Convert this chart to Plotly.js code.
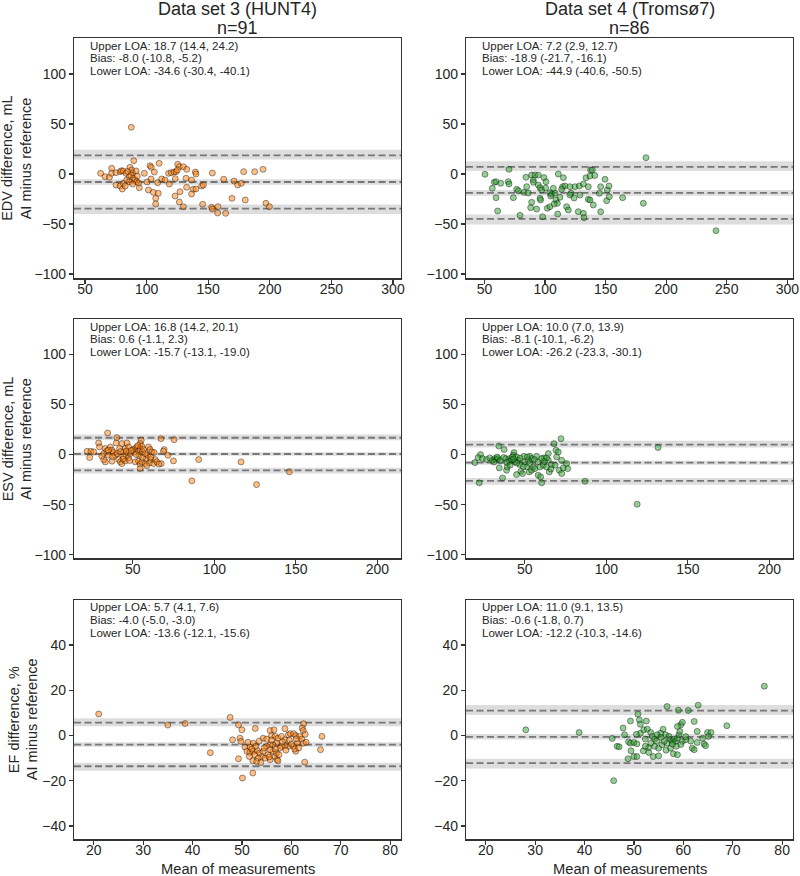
<!DOCTYPE html>
<html>
<head>
<meta charset="utf-8">
<script src="https://cdn.plot.ly/plotly-3.0.1.min.js"></script>
<style>html,body{margin:0;padding:0;background:#fff;}#chart{width:800px;height:876px;}</style>
</head>
<body>
<div id="chart"></div>
<script>
// ---------------- Data ----------------
const columnTitles = ["Data set 3 (HUNT4)", "Data set 4 (Tromsø7)"];
const columnN = [91, 86];
const rowLabels = ["EDV difference, mL", "ESV difference, mL", "EF difference, %"];
const rowLabel2 = "AI minus reference";
const xTitle = "Mean of measurements";

// EDV, HUNT4
const huntEdvX = [87.6,89.6,110.2,102.8,103.8,125.3,126.6,129.9,132.6,71.7,
  62.7,66.3,69.8,71.7,75.2,78.5,79.7,81.1,83.3,86.5,
  87.9,88.7,87.1,86.0,89.3,90.6,91.9,98.2,106.3,117.9,
  120.0,122.3,123.9,125.0,139.6,140.1,153.4,178.8,187.7,194.5,
  75.2,78.5,80.3,81.1,83.9,86.0,88.7,94.1,101.5,103.6,
  105.5,109.5,107.4,107.4,109.0,112.3,114.9,118.5,123.3,127.1,
  123.1,126.6,129.9,132.0,136.5,132.5,137.9,140.1,136.5,144.7,
  146.1,145.5,162.6,171.0,173.9,176.9,169.3,180.1,196.9,152.8,
  153.4,158.0,157.7,164.2,199.7,91.5,92.5,84.6,93.5,82.7,100.4];
const huntEdvY = [46.7,13.3,10.7,8.3,6.7,9.7,7.3,7.3,4.7,5.7,
  0.7,-2.7,-3.3,0.7,1.3,2.3,3.3,3.0,0.7,6.7,
  4.0,0.7,-1.0,-2.7,-4.3,-6.0,-7.7,0.7,2.0,0.7,
  1.3,2.0,2.3,4.0,2.0,0.0,1.0,2.3,2.3,4.7,
  -11.0,-12.0,-15.0,-9.3,-6.0,-7.7,-10.0,-13.7,-16.0,-5.0,
  -18.3,-19.3,-24.3,-30.0,-8.7,-5.0,-6.0,-10.0,-4.7,-17.7,
  -22.0,-28.0,-32.7,-4.3,-6.0,-13.3,-15.3,-15.0,-20.0,-12.0,
  -11.0,-30.3,-5.3,-7.0,-11.0,-9.3,-24.3,-26.0,-29.3,-33.3,
  -35.0,-32.7,-39.0,-39.3,-32.7,3,-2,2.5,-9,-12,-8];

// EDV, Tromsø7
const tromEdvX = [183.3,50.4,70.2,58.1,59.5,63.3,56.4,59.5,60.8,69.6,
  70.2,73.8,76.5,77.9,79.3,82.6,84.2,84.8,88.9,90.3,
  91.7,94.4,90.3,94.4,95.8,97.2,88.9,88.1,93,95.8,
  96.3,100.7,98,101.8,104,104,105.4,108.2,109,110.1,
  110.9,112.3,115.1,114.5,116.4,117.8,119.2,120.6,121.4,110.4,
  124.7,128.3,128.8,127.4,131.6,131.6,132.1,133.8,135.7,137.1,
  137.1,137.6,139,139.8,135.7,144.8,145.9,145.9,149.5,150.8,
  151.4,152.8,153,164,181.1,104.6,113.7,106.8,120.6,241.1,
  100.5,107.5,124,141,99,86];
const tromEdvY = [16.3,-0.3,4.7,-8.3,-7.7,-9.3,-14.3,-23.7,-37,-7.7,
  -10,-23.7,-15.3,-16.7,-41.3,-18.3,-3.3,-12.7,-1,-6,
  -1,-1,-8.3,-11,-13.7,-16,-28.3,-33.7,-35,-24.3,
  -26,-7.7,-42.7,-34.3,-32.7,-18.7,-20.3,-19.3,-26,-29.3,
  0,-23.3,-3.7,-12.7,-12,-32.7,-36,-12.7,-19.3,-40,
  -12.7,-12,-21,-37.7,-10,-39.3,-43.7,-3.7,-25.3,-26,
  -2,4,4,-31,-12.7,-19.3,-12.7,-37.7,-5.3,-26.7,
  -16,-12,-22.7,-23.7,-29.3,-22,-15.3,-14.3,-21,-56.7,
  -14,-30,-24,-1.5,-3.5,-19];

// ESV, HUNT4
const huntEsvX = [34.5,40.2,67.2,75.3,55.1,54.5,29,29.6,39.8,43.3,
  46.4,21.9,24.3,26,23.5,32.1,33.1,34.1,35.1,36.2,
  37.2,38.2,39.2,33.1,32.1,37.2,41.3,42.3,43.3,41.9,
  44.3,45.3,45.9,47.4,44.3,45.3,47.4,48.4,50,50.9,
  51.5,52.5,53.5,53.9,54.5,55.5,55.9,56.6,51.5,53.5,
  54.5,55.5,54.5,57.6,58.2,59,59.6,60.6,61.7,61.1,
  60.2,62.7,63.7,64.7,67.4,69.2,68.8,71.5,74.9,90.4,
  86.2,116.4,125.9,146,31,35,37.5,40.5,42.5,44,
  46,48,49,52,53,56,57.5,58.5,61,63,
  66];
const huntEsvY = [21.6,16.9,15.9,14.9,14.3,11,11.6,7.6,11.6,11,
  11.6,3.3,3.3,2.7,-3,1,6,3.7,-0.7,7.6,
  4.3,2,-0.7,-7.3,-5,-6.6,-5,-7.3,-9,6,
  2.7,6,-0.7,7.6,-2.3,-6.3,-3.3,1,5,2.7,
  6,7.6,3.7,-0.7,6,8.3,2.7,5,-7.3,-6.6,
  -9.6,-7.3,-13.9,-9,-4,-0.7,7.6,5,2.7,-5,
  -8.3,-9,-5,-7.3,-9,5,3.3,-0.7,-6.3,-5,
  -26.2,-7.3,-29.9,-17.2,-1.5,4.5,-2,1,3,-4.5,
  3.5,-6,4,0,9,-3,1,-11,-2.5,2,
  -9.5];

// ESV, Tromsø7
const tromEsvX = [72.2,67.9,34,37.3,69.1,70.5,43.3,42.9,64.4,69.5,
  72.6,64.4,61.7,60.3,53.1,54.1,57.2,22.8,21.3,19.3,
  22,24,26.5,28.5,30.2,31.6,32.6,33.6,34.3,36.3,
  38.8,39.2,40.8,41.8,42.4,43.9,44.9,45.9,46.9,47.6,
  48.6,50,51.1,52.1,52.7,54.1,55.1,56.2,58.2,59.7,
  60.3,59.2,61.3,63.3,65,66.4,68.5,71.1,72.6,73.6,
  75.6,76.3,86.9,118.9,38.3,40.4,44.9,49.4,51.5,63.3,
  131.7,33,35,37,39,41,43,45,47,49,
  53,56,58,62,66,31];
const tromEsvY = [15.9,10.9,8.6,5,4.3,2.6,2,-0.7,1,-2.3,
  -5.7,-5.7,-3.3,-4,-1.7,-4,-1.7,0,-3,-8,
  -28.2,-4,-5,-3.3,-5.7,-4,-5,-4,-13.3,-23.3,
  -15.6,-12.3,-4,-5.7,-2.3,-7.3,-20,-5.7,-10,-16.6,
  -19,-7.3,-12.3,-5.7,-17.3,-15.6,-12.3,-14,-20.6,-22.3,
  -28.2,-12.3,-10.6,-12.3,-17.3,-10,-10.6,-15.6,-18.9,-13.3,
  -9,-14,-26.6,-49.5,-4,-6.7,-2.3,-1.7,-2.3,-3.3,
  7,-2.5,-6,-3,-8,-10.5,-4.5,-8.5,-3.5,-12,
  -9,-5,-7.5,-7,-14.5,-7.5];

// EF, HUNT4
const huntEfX = [47.6,49.3,50,49.6,48.1,49.8,52.7,49.3,52.2,52.2,
  50.1,55.7,56.5,58.7,62.5,62.2,62.4,66.2,65.9,62.7,
  54.3,55,56,56.7,57.3,58,58.7,59.4,59.8,60.5,
  60.9,61.7,62.1,62.4,61.2,60.4,59.4,58.7,58,57,
  56.3,55.7,55,52.3,51.6,50.6,51,51.6,52.3,52.6,
  53.1,53.6,54,53.3,54.7,55.3,55.7,56.3,56.7,57,
  57.1,54.3,51.5,53,60.9,60.7,52.8,55.7,57.7,21,
  35,38.5,43.6,51.2,52,53.5,54.5,55.5,56,56.8,
  57.5,58.2,58.9,59.6,60,61,61.5,53.8,63,57.3,
  62.8];
const huntEfY = [8.0,4.7,2.5,-1.2,-1.9,-2.6,3.1,-10.3,-11.2,-16.6,
  -18.8,2.2,2.5,3.0,5.2,3.3,2.2,-0.4,-6.3,-11.8,
  -1.2,-1.6,-0.1,-0.4,-1.2,-0.4,-1.9,0.3,0.8,0.8,
  -0.1,-0.4,-1.6,-3.4,-3.4,-4.8,-4.8,-4.5,-4.8,-3.4,
  -4.1,-4.1,-4.8,-3.4,-5.1,-5.1,-7.0,-7.5,-7.0,-8.5,
  -6.6,-7.8,-9.3,-10.0,-10.0,-8.5,-10.7,-7.0,-9.3,-7.8,
  -10.7,-7.0,-9.3,-11.5,-7.0,-6.0,-4.8,-6.3,-5.6,9.5,
  4.6,5.3,-7.6,-3,-6,-2.5,-5.5,-9.5,-2,-6,
  -8.5,-2.8,-6.5,-2,-3.8,-1.5,-5.5,-12,-3,-11.2,
  0.5];

// EF, Tromsø7
const tromEfX = [56.7,63.0,59.0,61.0,50.8,49.3,51.1,52.5,51.3,47.8,
  45.6,46.6,48.1,48.9,49.3,50.0,50.6,49.4,48.8,50.0,
  50.6,51.9,53.0,53.9,55.0,51.3,52.0,52.7,53.4,53.7,
  54.2,54.6,53.4,54.2,55.0,55.7,55.9,55.4,56.4,57.1,
  57.4,57.8,58.1,58.4,58.8,59.1,59.3,59.5,59.8,58.8,
  59.8,58.6,57.4,58.0,58.8,56.7,56.1,61.8,62.2,62.2,
  62.8,62.8,63.9,64.2,64.9,65.6,65.1,52.3,54.7,60.5,
  52.3,28.1,38.9,76.4,68.8,45.9,47,50.5,53,55.5,
  56.5,57.8,59.5,60.5,61.5,64.5];
const tromEfY = [12.8,13.4,11.2,11.1,9.4,6.4,6.9,6.4,5.0,3.3,
  -1.3,-4.8,0.3,-2.8,-3.4,-3.1,-3.7,-6.8,-10.3,-9.3,
  -9.3,-6.8,-5.3,-9.3,-9.0,1.0,2.5,2.8,1.3,-0.4,
  -1.6,-2.6,-3.4,-4.8,-5.6,-4.1,2.8,1.0,0.3,-0.4,
  -1.9,-2.6,-1.6,-2.6,-1.2,0.3,1.8,4.7,5.8,4.0,
  -2.6,-4.8,-5.6,-8.1,-8.5,-3.4,-2.6,-5.6,-6.3,6.2,
  1.8,-3.1,-1.2,-3.8,1.3,1.3,-0.4,-1.6,0.3,-1.9,
  -4.8,2.5,1.3,21.8,4.3,-20.0,-5,0.5,-7.5,-0.8,
  -6.5,-3.8,-4,-0.5,-2.5,-4.5];

// Limits of agreement, panels ordered: EDV-HUNT4, EDV-Tromsø7, ESV-HUNT4, ESV-Tromsø7, EF-HUNT4, EF-Tromsø7
const upperLOA = [18.7, 7.2, 16.8, 10.0, 5.7, 11.0];
const upperCI  = [[14.4, 24.2], [2.9, 12.7], [14.2, 20.1], [7.0, 13.9], [4.1, 7.6], [9.1, 13.5]];
const biasVal  = [-8.0, -18.9, 0.6, -8.1, -4.0, -0.6];
const biasCI   = [[-10.8, -5.2], [-21.7, -16.1], [-1.1, 2.3], [-10.1, -6.2], [-5.0, -3.0], [-1.8, 0.7]];
const lowerLOA = [-34.6, -44.9, -15.7, -26.2, -13.6, -12.2];
const lowerCI  = [[-30.4, -40.1], [-40.6, -50.5], [-13.1, -19.0], [-23.3, -30.1], [-12.1, -15.6], [-10.3, -14.6]];

// Axis ticks
const xTicksRow = [[50, 100, 150, 200, 250, 300], [50, 100, 150, 200], [20, 30, 40, 50, 60, 70, 80]];
const yTicksRow = [[-100, -50, 0, 50, 100], [-100, -50, 0, 50, 100], [-40, -20, 0, 20, 40]];

// ---------------- Layout / styling ----------------
const W = 800, H = 876;
const FONT = "Liberation Sans, Arial, Helvetica, sans-serif";
const TXT = "#262626";
const colDom = [[74 / W, 401 / W], [466 / W, 793 / W]];
const rowPx = [[38.3, 278.3], [319.3, 558.3], [600, 839.3]];
const rowDom = rowPx.map(p => [1 - p[1] / H, 1 - p[0] / H]);
// x ranges per panel (same order as panels)
const xRanges = [[41.1, 306.5], [34.7, 304.7], [13.9, 214.5], [13.9, 214.5], [16.0, 82.2], [16.0, 82.2]];
const yRanges = [[-104.3, 135.7], [-103.5, 135.0], [-45.9, 59.9]];

const panels = [
  {x: huntEdvX, y: huntEdvY, col: 0, row: 0},
  {x: tromEdvX, y: tromEdvY, col: 1, row: 0},
  {x: huntEsvX, y: huntEsvY, col: 0, row: 1},
  {x: tromEsvX, y: tromEsvY, col: 1, row: 1},
  {x: huntEfX, y: huntEfY, col: 0, row: 2},
  {x: tromEfX, y: tromEfY, col: 1, row: 2}
];
const fillCol = ["rgba(255,127,14,0.5)", "rgba(44,160,44,0.5)"];

const traces = [];
const layout = {
  width: W, height: H,
  margin: {l: 0, r: 0, t: 0, b: 0},
  paper_bgcolor: "#ffffff", plot_bgcolor: "#ffffff",
  showlegend: false,
  font: {family: FONT, color: TXT, size: 14},
  shapes: [], annotations: []
};

const f1 = v => v.toFixed(1);

panels.forEach((p, i) => {
  const k = i + 1;
  const xa = k === 1 ? "x" : "x" + k;
  const ya = k === 1 ? "y" : "y" + k;
  const xKey = k === 1 ? "xaxis" : "xaxis" + k;
  const yKey = k === 1 ? "yaxis" : "yaxis" + k;
  const axCommon = {
    showline: true, mirror: true, linecolor: "#333333", linewidth: 1.2,
    ticks: "outside", ticklen: 4, tickwidth: 1.2, tickcolor: "#333333",
    showgrid: false, zeroline: false,
    tickfont: {family: FONT, size: 14, color: TXT}
  };
  layout[xKey] = Object.assign({}, axCommon, {
    domain: colDom[p.col], anchor: ya, range: xRanges[i],
    tickmode: "array", tickvals: xTicksRow[p.row], ticklabelstandoff: -6
  });
  layout[yKey] = Object.assign({}, axCommon, {
    domain: rowDom[p.row], anchor: xa, range: yRanges[p.row],
    tickmode: "array", tickvals: yTicksRow[p.row]
  });

  traces.push({
    type: "scatter", mode: "markers", x: p.x, y: p.y, xaxis: xa, yaxis: ya,
    marker: {size: 6, color: fillCol[p.col], line: {color: "rgba(0,0,0,0.5)", width: 0.8}},
    hoverinfo: "x+y"
  });

  const xd = xa + " domain";
  const bands = [upperCI[i], biasCI[i], lowerCI[i]];
  bands.forEach(b => {
    layout.shapes.push({type: "rect", xref: xd, yref: ya, x0: 0, x1: 1,
      y0: Math.min(b[0], b[1]), y1: Math.max(b[0], b[1]),
      fillcolor: "rgba(128,128,128,0.27)", line: {width: 0}, layer: "below"});
  });
  [upperLOA[i], biasVal[i], lowerLOA[i]].forEach(v => {
    layout.shapes.push({type: "line", xref: xd, yref: ya, x0: 0, x1: 1, y0: v, y1: v,
      line: {color: "#777777", width: 1.8, dash: "7px,3.5px"}, layer: "below"});
  });

  const yd = ya + " domain";
  const lines = [
    "Upper LOA: " + f1(upperLOA[i]) + " (" + f1(upperCI[i][0]) + ", " + f1(upperCI[i][1]) + ")",
    "Bias: " + f1(biasVal[i]) + " (" + f1(biasCI[i][0]) + ", " + f1(biasCI[i][1]) + ")",
    "Lower LOA: " + f1(lowerLOA[i]) + " (" + f1(lowerCI[i][0]) + ", " + f1(lowerCI[i][1]) + ")"
  ];
  const yPos = [0.969, 0.917, 0.864];
  lines.forEach((t, j) => {
    layout.annotations.push({text: t, xref: xd, yref: yd, x: 0.043, y: yPos[j],
      xanchor: "left", yanchor: "middle", showarrow: false,
      font: {family: FONT, size: 11.5, color: TXT}});
  });
});

// Column titles
columnTitles.forEach((t, c) => {
  const cx = (colDom[c][0] + colDom[c][1]) / 2;
  layout.annotations.push({text: t, xref: "paper", yref: "paper", x: cx, y: 1 - 9.5 / H,
    xanchor: "center", yanchor: "middle", showarrow: false, font: {family: FONT, size: 18, color: TXT}});
  layout.annotations.push({text: "n=" + columnN[c], xref: "paper", yref: "paper", x: cx, y: 1 - 27.5 / H,
    xanchor: "center", yanchor: "middle", showarrow: false, font: {family: FONT, size: 18, color: TXT}});
});

// Row (y-axis) labels
const labelXpx = [[7.5, 26], [7.5, 26], [13.5, 31.5]];
rowLabels.forEach((t, r) => {
  const cy = (rowDom[r][0] + rowDom[r][1]) / 2;
  layout.annotations.push({text: t, xref: "paper", yref: "paper", x: labelXpx[r][0] / W, y: cy,
    xanchor: "center", yanchor: "middle", textangle: -90, showarrow: false,
    font: {family: FONT, size: 14.5, color: TXT}});
  layout.annotations.push({text: rowLabel2, xref: "paper", yref: "paper", x: labelXpx[r][1] / W, y: cy,
    xanchor: "center", yanchor: "middle", textangle: -90, showarrow: false,
    font: {family: FONT, size: 14.5, color: TXT}});
});

// X-axis titles (bottom row)
[0, 1].forEach(c => {
  const cx = (colDom[c][0] + colDom[c][1]) / 2;
  layout.annotations.push({text: xTitle, xref: "paper", yref: "paper", x: cx, y: 1 - 869 / H,
    xanchor: "center", yanchor: "middle", showarrow: false, font: {family: FONT, size: 14.7, color: TXT}});
});

Plotly.newPlot("chart", traces, layout, {displayModeBar: false, staticPlot: true});
</script>
</body>
</html>
